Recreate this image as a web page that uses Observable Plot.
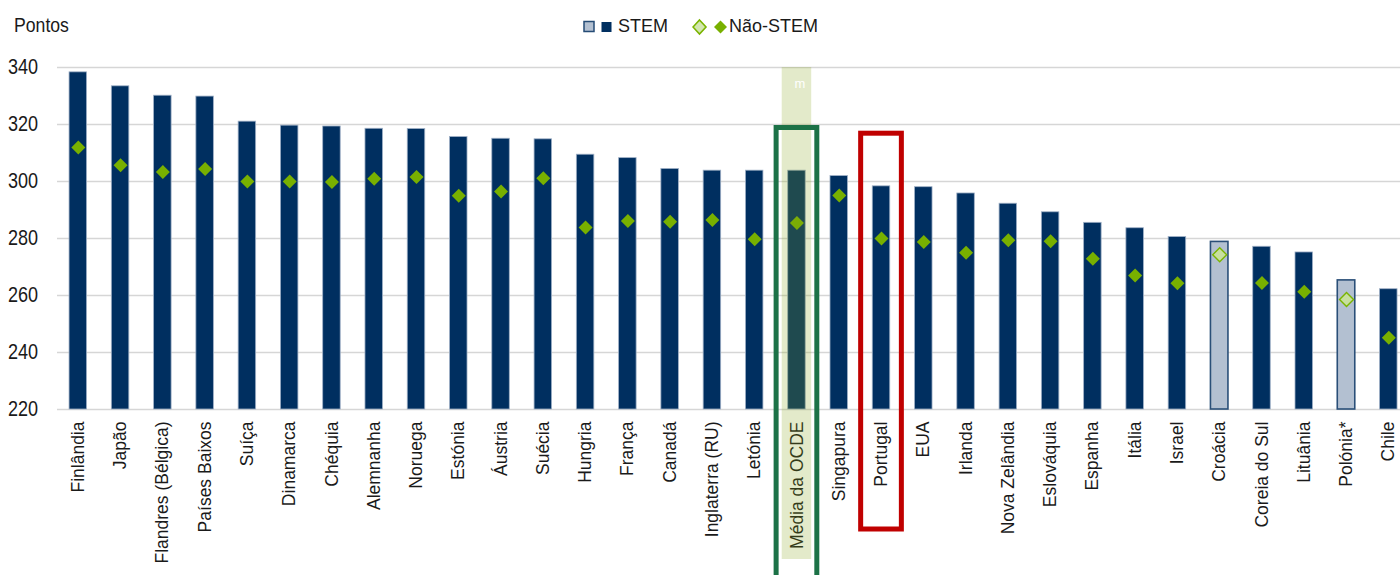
<!DOCTYPE html>
<html lang="pt">
<head>
<meta charset="utf-8">
<script src="https://cdn.jsdelivr.net/npm/d3@7"></script>
<script src="https://cdn.jsdelivr.net/npm/@observablehq/plot@0.6"></script>
<style>
  html, body { margin: 0; padding: 0; background: #fff; overflow: hidden; }
  #wrap { position: relative; width: 1400px; height: 575px; }
  #wrap svg.plot-main { position: absolute; left: 0; top: 0; overflow: visible; }
  .unit { position: absolute; left: 14px; top: 13px; font-family: "Liberation Sans", Arial, sans-serif; font-size: 21px; color: #1a1a1a; transform: scaleX(0.84); transform-origin: 0 0; }
  .legend { position: absolute; left: 583px; top: 16px; display: flex; align-items: center; font-family: "Liberation Sans", Arial, sans-serif; font-size: 18px; color: #1a1a1a; }
  .legend svg { display: block; }
  /* rótulos do eixo Y estreitos, alinhados à direita em x = 38 */
  .ytick { transform: translate(-19px, 0) scaleX(0.82); transform-origin: 57px 0; }
</style>
</head>
<body>
<div id="wrap">
  <div class="unit">Pontos</div>
  <div class="legend">
    <svg width="30" height="14" viewBox="0 0 30 14">
      <rect x="1" y="1.5" width="10" height="10" fill="#b3c0d1" stroke="#254b75" stroke-width="1.5"></rect>
      <rect x="18.5" y="2" width="10" height="10" fill="#002f60"></rect>
    </svg>
    <span style="margin-left:5px">STEM</span>
    <svg width="42" height="18" viewBox="0 0 42 18" style="margin-left:24px">
      <path d="M7.5 2 L14 9 L7.5 16 L1 9 Z" fill="#d3e6b0" stroke="#7ab400" stroke-width="1.6"></path>
      <path d="M28.5 2.5 L35 9 L28.5 15.5 L22 9 Z" fill="#78b000"></path>
    </svg>
    <span style="margin-left:-5px">Não-STEM</span>
  </div>
</div>
<script>
// Pontuação média em numeracia: áreas STEM vs. não-STEM
const countries = [
  "Finlândia", "Japão", "Flandres (Bélgica)", "Países Baixos", "Suíça", "Dinamarca",
  "Chéquia", "Alemnanha", "Noruega", "Estónia", "Áustria", "Suécia", "Hungria",
  "França", "Canadá", "Inglaterra (RU)", "Letónia", "Média da OCDE", "Singapura",
  "Portugal", "EUA", "Irlanda", "Nova Zelândia", "Eslováquia", "Espanha", "Itália",
  "Israel", "Croácia", "Coreia do Sul", "Lituânia", "Polónia*", "Chile"
];
const stem = [
  338.3, 333.4, 330.1, 329.8, 321.0, 319.6, 319.3, 318.5, 318.4, 315.6, 315.0, 314.8,
  309.4, 308.2, 304.4, 303.8, 303.8, 303.8, 301.9, 298.3, 298.0, 295.8, 292.2, 289.2,
  285.5, 283.6, 280.5, 278.8, 277.1, 275.1, 265.3, 262.2
];
const naoStem = [
  311.9, 305.7, 303.3, 304.4, 300.0, 300.0, 299.8, 301.0, 301.6, 295.0, 296.5, 301.1,
  283.9, 286.1, 285.9, 286.5, 279.7, 285.4, 295.1, 280.0, 278.8, 275.0, 279.4, 279.0,
  272.9, 267.0, 264.3, 274.3, 264.4, 261.3, 258.6, 245.2
];
// Estimativas com menor fiabilidade (cor clara)
const lowReliability = ["Croácia", "Polónia*"];
const yTicks = [220, 240, 260, 280, 300, 320, 340];
const oecdLabel = "Média da OCDE";
const highlightLabel = "Portugal";

const rows = countries.map((c, i) => ({
  country: c,
  stem: stem[i],
  naoStem: naoStem[i],
  light: lowReliability.includes(c)
}));

const navy = "#002f60";
const green = "#78b000";
const labelFont = "'Liberation Sans', Arial, sans-serif";

const chart = Plot.plot({
  width: 1400,
  height: 575,
  marginTop: 67,
  marginBottom: 166,
  marginLeft: 57,
  marginRight: 0,
  style: { background: "transparent", overflow: "visible" },
  x: { domain: countries, range: [57.3, 1408.8], paddingInner: 0.586, paddingOuter: 0.278, round: false, label: null },
  y: { domain: [220, 340], label: null },
  marks: [
    Plot.gridY(yTicks, { stroke: "#d6d6d6", strokeOpacity: 1, strokeWidth: 1.6 }),
    Plot.barY(rows, {
      x: "country", y1: 220, y2: "stem",
      fill: d => d.light ? "#b3c0d1" : navy,
      stroke: d => d.light ? "#2a4f78" : "#9fb0c6",
      strokeWidth: d => d.light ? 1.6 : 0.8
    }),
    Plot.dot(rows, {
      x: "country", y: "naoStem", symbol: "diamond2", r: 6.3,
      fill: d => d.light ? "#c7df9f" : green,
      stroke: d => d.light ? "#7ab400" : "none",
      strokeWidth: 1.4
    }),
    Plot.axisX({
      tickRotate: -90, tickSize: 0, tickPadding: 12,
      fontSize: 17.5, fontFamily: labelFont, fill: "#1a1a1a", label: null
    }),
    Plot.axisY(yTicks, {
      tickSize: 0, tickPadding: 19, fontSize: 22,
      fontFamily: labelFont, fill: "#1a1a1a", label: null,
      className: "ytick"
    }),
    // faixa de destaque da média da OCDE
    Plot.barY([oecdLabel], {
      x: d => d, y1: 340, y2: 220,
      insetLeft: -6, insetRight: -6, insetBottom: -150,
      fill: "#84a619", fillOpacity: 0.23
    }),
    Plot.text([oecdLabel], {
      x: d => d, y: 340, dy: 16, dx: 3, text: () => "m",
      fill: "#ffffff", fontSize: 13, fontFamily: labelFont
    }),
    // molduras
    Plot.barY([oecdLabel], {
      x: d => d, y1: 320, y2: 220,
      insetLeft: -11.6, insetRight: -11.6, insetTop: 3.5, insetBottom: -185,
      fill: "none", stroke: "#1c7247", strokeWidth: 5
    }),
    Plot.barY([highlightLabel], {
      x: d => d, y1: 320, y2: 220,
      insetLeft: -11.6, insetRight: -11.6, insetTop: 9.2, insetBottom: -120,
      fill: "none", stroke: "#c00000", strokeWidth: 5
    })
  ]
});
chart.classList.add("plot-main");
document.getElementById("wrap").prepend(chart);
</script>
</body>
</html>
